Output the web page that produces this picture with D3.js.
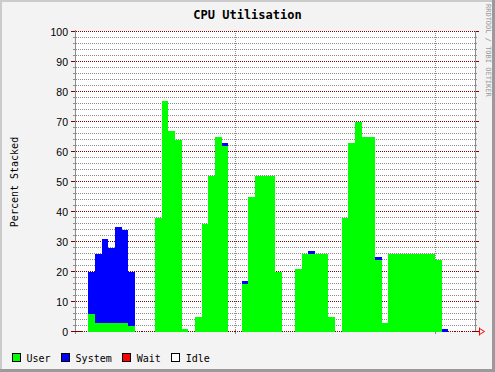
<!DOCTYPE html>
<html lang="en">
<head>
<meta charset="utf-8">
<title>CPU Utilisation</title>
<script src="https://d3js.org/d3.v7.min.js"></script>
<style>
body {
    margin: 0;
    background-color: #f3f3f3;
}
svg { display: block; }
.title {
    font-family: "DejaVu Sans Mono", monospace;
    font-weight: bold;
    font-size: 12px;
}
.tick-label {
    font-family: "Liberation Sans", Arial, sans-serif;
    font-size: 10.5px;
}
.mono {
    font-family: "DejaVu Sans Mono", monospace;
    font-size: 10px;
}
.watermark {
    font-family: "DejaVu Sans Mono", monospace;
    font-size: 7px;
    fill: #999999;
}
</style>
</head>
<body>
<svg width="495" height="372"></svg>
<script>

// percent per sample, 60 samples
var user = [0,0,6,3,3,3,3,3,2,0,
            0,0,38,77,67,64,1,0,5,36,
            52,65,62,0,0,16,45,52,52,52,
            20,0,0,21,26,26,26,26,5,0,
            38,63,70,65,65,24,3,26,26,26,
            26,26,26,26,24,0,0,0,0,0];
var system = [0,0,14,23,28,25,32,31,18,0,
              0,0,0,0,0,0,0,0,0,0,
              0,0,1,0,0,1,0,0,0,0,
              0,0,0,0,0,1,0,0,0,0,
              0,0,0,0,0,1,0,0,0,0,
              0,0,0,0,0,1,0,0,0,0];

var seriesNames = ["User", "System", "Wait", "Idle"];
var seriesColors = ["#00ff00", "#0000ff", "#ff0000", "#ffffff"];
var yTickLabels = [0, 10, 20, 30, 40, 50, 60, 70, 80, 90, 100];
var timeGrid = [24, 54]; // sample index of the vertical grid lines

var svg = d3.select("svg"),
    width = +svg.attr("width"),
    height = +svg.attr("height");

var x = d3.scaleLinear().domain([0, user.length]).range([75, 475]);
var y = d3.scaleLinear().domain([0, 100]).range([332, 32]);

var minorCol = "#8c8c8c", majorCol = "#800000", axisCol = "#8c8c8c";

// frame
svg.append("rect").attr("width", width).attr("height", height).attr("fill", "#f3f3f3");
svg.append("rect").attr("x", 0).attr("y", 0).attr("width", width).attr("height", 2).attr("fill", "#cbcbcb");
svg.append("rect").attr("x", 0).attr("y", 0).attr("width", 2).attr("height", height).attr("fill", "#cbcbcb");
svg.append("rect").attr("x", width - 3).attr("y", 0).attr("width", 3).attr("height", height).attr("fill", "#9a9a9a");
svg.append("rect").attr("x", 0).attr("y", height - 3).attr("width", width).attr("height", 3).attr("fill", "#9a9a9a");

// plot background
svg.append("rect")
    .attr("x", x(0)).attr("y", y(100) - 1)
    .attr("width", x(user.length) - x(0)).attr("height", y(0) - y(100))
    .attr("fill", "#ffffff");

var grid = svg.append("g").attr("shape-rendering", "crispEdges");

function hline(v, col, ext) {
  var yy = Math.round(y(v)) - 0.5;
  grid.append("line")
      .attr("x1", x(0) + 1).attr("x2", x(user.length) - 1)
      .attr("y1", yy).attr("y2", yy)
      .attr("stroke", col).attr("stroke-dasharray", "1,1");
  grid.append("line")
      .attr("x1", x(0) - ext).attr("x2", x(0) + 1)
      .attr("y1", yy).attr("y2", yy).attr("stroke", col);
  grid.append("line")
      .attr("x1", x(user.length) - 1).attr("x2", x(user.length) + ext)
      .attr("y1", yy).attr("y2", yy).attr("stroke", col);
}

// minor lines every 2%, major every 10%
y.ticks(50).forEach(function(v) {
  if (v % 10 !== 0) hline(v, minorCol, 2);
});
y.ticks(10).forEach(function(v) {
  if (v !== 0) hline(v, majorCol, 4);
});

timeGrid.forEach(function(t) {
  var xx = Math.round(x(t)) + 0.5;
  grid.append("line")
      .attr("x1", xx).attr("x2", xx)
      .attr("y1", y(100) - 1).attr("y2", y(0))
      .attr("stroke", minorCol).attr("stroke-dasharray", "1,1");
  grid.append("line")
      .attr("x1", xx).attr("x2", xx)
      .attr("y1", y(0) - 3).attr("y2", y(0) + 2)
      .attr("stroke", minorCol);
});

// axis lines
grid.append("line")
    .attr("x1", x(0) + 0.5).attr("x2", x(0) + 0.5)
    .attr("y1", y(100) - 2).attr("y2", y(0) + 2)
    .attr("stroke", axisCol);
grid.append("line")
    .attr("x1", x(user.length) + 0.5).attr("x2", x(user.length) + 0.5)
    .attr("y1", y(100) - 1).attr("y2", y(0))
    .attr("stroke", axisCol);

// stacked bars
var table = user.map(function(u, i) { return {i: i, user: u, system: system[i]}; });
var stack = d3.stack().keys(["user", "system"]);
var layers = stack(table);

svg.append("g")
    .attr("shape-rendering", "crispEdges")
  .selectAll("g")
  .data(layers)
  .enter().append("g")
    .attr("fill", function(d, k) { return seriesColors[k]; })
  .selectAll("rect")
  .data(function(d) { return d.filter(function(p) { return p[1] > p[0]; }); })
  .enter().append("rect")
    .attr("x", function(p) { return x(p.data.i); })
    .attr("width", function(p) { return x(p.data.i + 1) - x(p.data.i); })
    .attr("y", function(p) { return y(p[1]); })
    .attr("height", function(p) { return y(p[0]) - y(p[1]); });

// x axis (zero line) on top of bars where empty
var y0 = Math.round(y(0)) - 0.5;
var xaxis = svg.append("g").attr("shape-rendering", "crispEdges");
table.forEach(function(d) {
  if (d.user + d.system === 0) {
    xaxis.append("line")
        .attr("x1", x(d.i)).attr("x2", x(d.i + 1))
        .attr("y1", y0).attr("y2", y0)
        .attr("stroke", majorCol).attr("stroke-dasharray", "1,1");
  }
});
xaxis.append("line")
    .attr("x1", x(0) - 4).attr("x2", x(0) + 7)
    .attr("y1", y0).attr("y2", y0).attr("stroke", majorCol);
xaxis.append("line")
    .attr("x1", x(user.length) - 2).attr("x2", x(user.length) + 4)
    .attr("y1", y0).attr("y2", y0).attr("stroke", majorCol);

// arrow
var ax = x(user.length) + 4.5;
svg.append("path")
    .attr("d", "M" + ax + "," + (y0 - 4) + "V" + (y0 + 4) +
               "M" + ax + "," + (y0 - 3) + "L" + (ax + 5) + "," + y0 + "L" + ax + "," + (y0 + 3))
    .attr("fill", "none")
    .attr("stroke", "#ff0000");

// y tick labels
svg.append("g")
  .selectAll("text")
  .data(yTickLabels)
  .enter().append("text")
    .attr("class", "tick-label")
    .attr("x", 68)
    .attr("y", function(d) { return Math.round(y(d)) + 3.5; })
    .attr("text-anchor", "end")
    .text(function(d) { return d; });

// title and labels
svg.append("text")
    .attr("class", "title")
    .attr("x", width / 2)
    .attr("y", 19)
    .attr("text-anchor", "middle")
    .text("CPU Utilisation");

svg.append("text")
    .attr("class", "mono")
    .attr("transform", "translate(17.5," + ((y(0) + y(100)) / 2) + ") rotate(-90)")
    .attr("text-anchor", "middle")
    .text("Percent Stacked");

svg.append("text")
    .attr("class", "watermark")
    .attr("transform", "translate(486,4) rotate(90)")
    .text("RRDTOOL / TOBI OETIKER");

// legend
var lx = 12;
seriesNames.forEach(function(name, k) {
  svg.append("rect")
      .attr("x", lx + 0.5).attr("y", 353.5)
      .attr("width", 8).attr("height", 8)
      .attr("fill", seriesColors[k])
      .attr("stroke", "#000")
      .attr("shape-rendering", "crispEdges");
  var t = svg.append("text")
      .attr("class", "mono")
      .attr("x", lx + 14.5)
      .attr("y", 361.5)
      .text(name);
  lx = lx + 14.5 + t.node().getComputedTextLength() + 10.5;
});

</script>
</body>
</html>
